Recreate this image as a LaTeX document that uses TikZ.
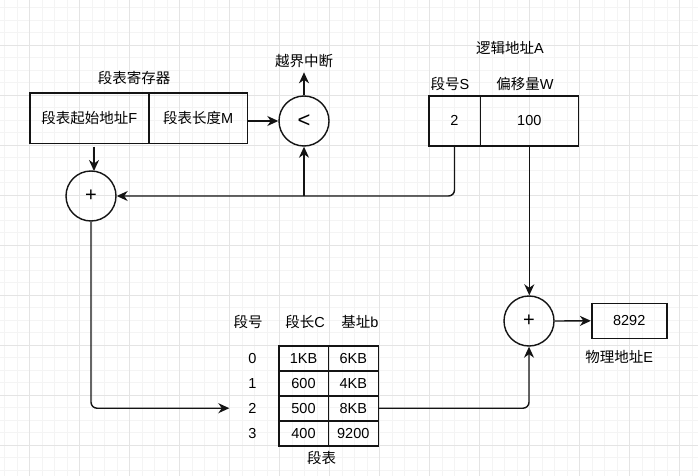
\documentclass[tikz,border=0pt]{standalone}
\usepackage{fontspec}
\setmainfont{Liberation Sans}
\newfontfamily\cjk{Noto Sans CJK SC}
\usetikzlibrary{arrows.meta}
\definecolor{minorc}{RGB}{244,244,244}
\definecolor{majorc}{RGB}{228,228,228}
\definecolor{ink}{RGB}{20,20,20}
\begin{document}
\begin{tikzpicture}[x=1pt,y=-1pt,
  font=\fontsize{14.5}{17}\selectfont,
  cell/.style={draw=ink, line width=1.6pt, inner sep=0pt},
  op/.style={draw=ink, circle, minimum size=50pt, inner sep=0pt, line width=1.4pt},
  lbl/.style={inner sep=0pt},
  conn/.style={draw=ink, line width=1.4pt, -{Stealth[length=11pt,width=10pt,inset=3.5pt]}, rounded corners=6pt},
]
\useasboundingbox (0,0) rectangle (698,476);
\fill[white] (0,0) rectangle (698,476);
% grid
\foreach \i in {0,...,55} {\draw[minorc, line width=0.9pt] ({4.5+12.5*\i},0) -- ({4.5+12.5*\i},476);}
\foreach \i in {0,...,37} {\draw[minorc, line width=0.9pt] (0,{7.5+12.5*\i}) -- (698,{7.5+12.5*\i});}
\foreach \i in {0,...,13} {\draw[majorc, line width=0.9pt] ({29.5+50*\i},0) -- ({29.5+50*\i},476);}
\foreach \i in {0,...,8} {\draw[majorc, line width=0.9pt] (0,{45+50*\i}) -- (698,{45+50*\i});}

% segment table register
\node[lbl] (regt) at (134,77.7) {\cjk 段表寄存器};
\node[cell, minimum width=119.3pt, minimum height=50pt] (F) at (89.35,118.3) {{\cjk 段表起始地址}F};
\node[cell, minimum width=98.3pt, minimum height=50pt] (M) at (198.15,118.3) {{\cjk 段表长度}M};

% comparator
\node[op] (cmp) at (304,121) {\fontsize{22}{24}\selectfont <};
\node[lbl] (ovf) at (304,61.5) {\cjk 越界中断};
\coordinate (ovftip) at (304,72.3);

% adder 1
\node[op] (p1) at (91,196) {\fontsize{20}{22}\selectfont +};

% logical address
\node[lbl] (lat) at (510,48.3) {{\cjk 逻辑地址}A};
\node[lbl] (sh) at (450,84) {{\cjk 段号}S};
\node[lbl] (wh) at (525,84) {{\cjk 偏移量}W};
\node[cell, minimum width=51.6pt, minimum height=49.7pt] (S) at (454.5,120.85) {2};
\node[cell, minimum width=98pt, minimum height=49.7pt] (W) at (529.3,120.85) {100};

% adder 2 and result
\node[op] (p2) at (529,321) {\fontsize{20}{22}\selectfont +};
\node[cell, minimum width=75pt, minimum height=35pt] (E) at (629.2,320.8) {8292};
\node[lbl] (el) at (619.3,357.3) {{\cjk 物理地址}E};

% segment table
\node[lbl] (h0) at (248,321.7) {\cjk 段号};
\node[lbl] (h1) at (305,321.7) {{\cjk 段长}C};
\node[lbl] (h2) at (360,321.7) {{\cjk 基址}b};
\foreach \r/\a/\b [count=\k from 0] in {0/1KB/6KB,1/600/4KB,2/500/8KB,3/400/9200} {
  \node[lbl] (n\k) at (252.3,{358.2+25*\k}) {\r};
  \node[cell, minimum width=49.6pt, minimum height=25pt] (a\k) at (303.5,{358.2+25*\k}) {\a};
  \node[cell, minimum width=50pt, minimum height=25pt] (b\k) at (353.3,{358.2+25*\k}) {\b};
}
\node[lbl] (tt) at (321.7,458.3) {\cjk 段表};
\coordinate (rowin) at (229.3,408.2);

% connectors
\draw[conn, shorten <=2.5pt] (F.south -| 94,0) -- (94,171);
\draw[conn] (M.east |- cmp.west) -- (cmp.west);
\draw[conn] (cmp.north) -- (ovftip);
\draw[conn] (S.south) -- (S.south |- p1.east) -- (p1.east);
\draw[conn] (cmp.south |- p1.east) -- (cmp.south);
\draw[conn] (W.south) -- (W.south |- p2.north);
\draw[conn] (p2.east) -- (E.west);
\draw[conn] (p1.south) -- (p1.south |- rowin) -- (rowin);
\draw[conn] (b2.east) -- (b2.east -| p2.south) -- (p2.south);
\end{tikzpicture}
\end{document}
